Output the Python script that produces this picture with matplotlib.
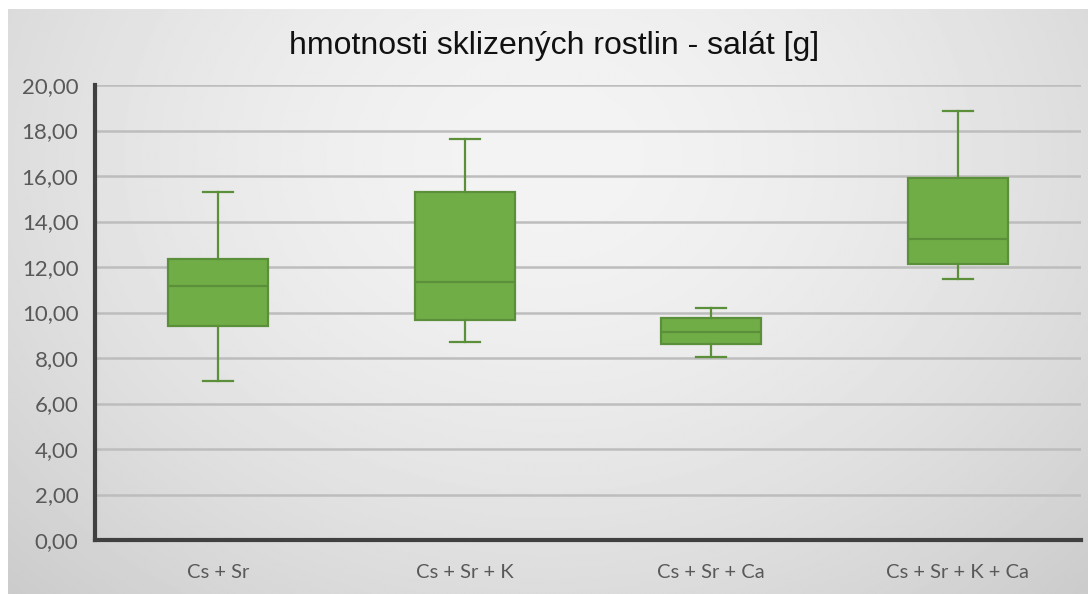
import numpy as np
import matplotlib
matplotlib.use("Agg")
import matplotlib.pyplot as plt

categories = ["Cs + Sr", "Cs + Sr + K", "Cs + Sr + Ca", "Cs + Sr + K + Ca"]
whislo = [6.99, 8.72, 8.04, 11.47]
q1 = [9.41, 9.67, 8.62, 12.13]
med = [11.16, 11.34, 9.14, 13.23]
q3 = [12.35, 15.28, 9.76, 15.90]
whishi = [15.30, 17.63, 10.20, 18.86]

fig = plt.figure(figsize=(10.88, 5.94), dpi=100, facecolor="white")

# background with radial gradient
bg = fig.add_axes([8 / 1088, 0, 1 - 8 / 1088, 1 - 9 / 594])
bg.set_axis_off()
yy, xx = np.mgrid[0:1:300j, 0:1:600j]
r = np.sqrt(((xx - 0.5) / 0.75) ** 2 + ((yy - 0.25) / 1.1) ** 2)
shade = 0.955 - 0.17 * np.clip(r, 0, 1) ** 1.6
bg.imshow(shade, cmap="gray", vmin=0, vmax=1, aspect="auto",
          extent=[0, 1, 0, 1], origin="upper")

ax = fig.add_axes([95 / 1088, 54 / 594, (1081 - 95) / 1088, (540 - 85) / 594])
ax.patch.set_alpha(0)

stats = []
for i, name in enumerate(categories):
    stats.append(dict(label=name, whislo=whislo[i], q1=q1[i], med=med[i],
                      q3=q3[i], whishi=whishi[i], fliers=[]))

green = "#70AD47"
dark = "#5B8F3A"
ax.bxp(stats, positions=range(len(categories)), widths=0.405,
       capwidths=0.12, patch_artist=True, showfliers=False,
       boxprops=dict(facecolor=green, edgecolor=dark, linewidth=1.6),
       medianprops=dict(color=dark, linewidth=1.6),
       whiskerprops=dict(color=dark, linewidth=1.6),
       capprops=dict(color=dark, linewidth=1.6), zorder=3)

ax.set_xlim(-0.5, 3.5)
ax.set_ylim(0, 20)
ax.set_yticks(np.arange(0, 21, 2))
ax.set_yticklabels([f"{v:.2f}".replace(".", ",") for v in np.arange(0, 21, 2)])
ax.yaxis.grid(True, color="#bdbdbd", linewidth=1.8, zorder=0)
ax.set_axisbelow(True)

for side in ["top", "right"]:
    ax.spines[side].set_visible(False)
ax.spines["left"].set_color("#404040")
ax.spines["left"].set_linewidth(3)
ax.spines["bottom"].set_color("#404040")
ax.spines["bottom"].set_linewidth(3)
ax.tick_params(length=0, labelcolor="#595959")
ax.tick_params(axis="y", pad=12, labelsize=16)
ax.tick_params(axis="x", pad=17, labelsize=14.5)
for lbl in ax.get_xticklabels() + ax.get_yticklabels():
    lbl.set_family(["Lato", "DejaVu Sans"])

fig.text(554 / 1088, 1 - 46 / 594, "hmotnosti sklizených rostlin - salát [g]",
         ha="center", va="center", fontsize=23,
         family=["Liberation Sans", "DejaVu Sans"], color="#111111")

fig.savefig("out.png", dpi=100)
